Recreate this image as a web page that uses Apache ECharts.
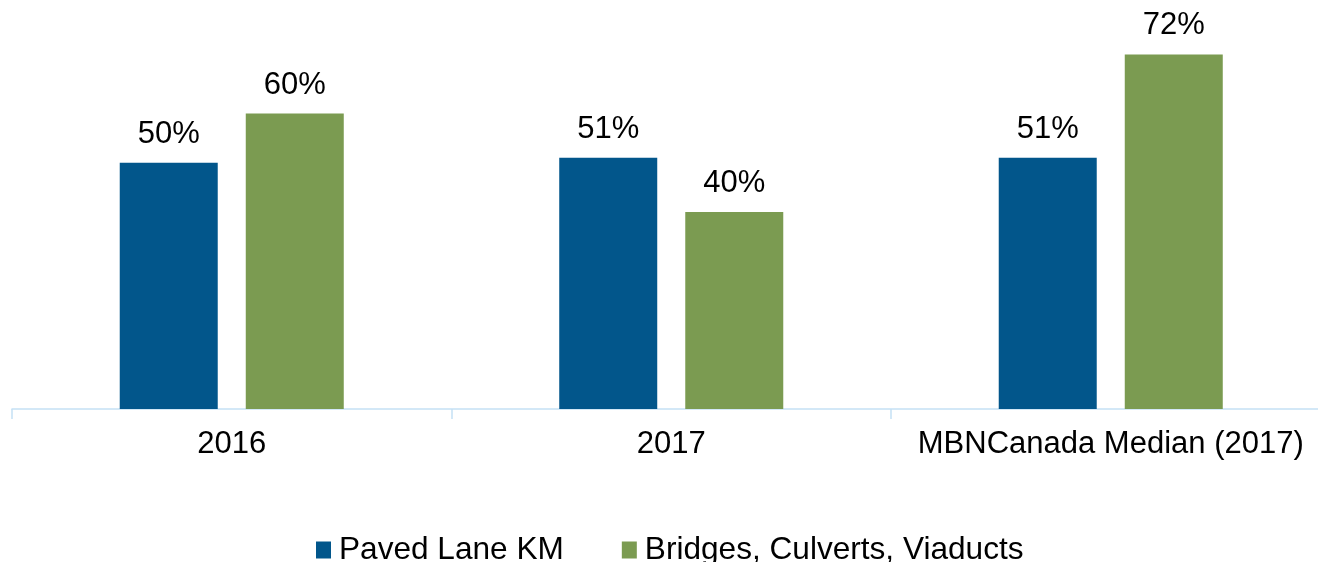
<!DOCTYPE html>
<html>
<head>
<meta charset="utf-8">
<script src="https://cdn.jsdelivr.net/npm/echarts@6/dist/echarts.min.js"></script>
<style>
  html, body { margin: 0; padding: 0; background: #fff; }
  #chart { width: 1318px; height: 562px; }
</style>
</head>
<body>
<div id="chart"></div>
<script>
const categories = ['2016', '2017', 'MBNCanada Median (2017)']
const pavedLaneKm = [50, 51, 51]
const bridgesCulvertsViaducts = [60, 40, 72]

const chart = echarts.init(document.getElementById('chart'))
const font = 'Liberation Sans, Arial, sans-serif'

const labelStyle = {
  show: true,
  position: 'top',
  distance: 13,
  formatter: p => p.value + '%',
  color: '#000',
  fontSize: 31,
  fontFamily: font
}

chart.setOption({
  animation: false,
  grid: { left: 12, width: 1318.5, top: 15, bottom: 153, outerBoundsMode: 'none', containLabel: false },
  legend: {
    left: 311,
    top: 529,
    itemWidth: 15,
    itemHeight: 17,
    itemGap: 58,
    icon: 'rect',
    textStyle: { color: '#000', fontSize: 31.6, fontFamily: font, padding: [0, 0, 0, 3] },
    data: ['Paved Lane KM', 'Bridges, Culverts, Viaducts']
  },
  xAxis: {
    type: 'category',
    data: categories,
    axisLine: { lineStyle: { color: '#c5e1f5', width: 1.5 } },
    axisTick: { show: true, length: 10, lineStyle: { color: '#c5e1f5', width: 1.5 } },
    axisLabel: { color: '#000', fontSize: 31, fontFamily: font, margin: 20, interval: 0, hideOverlap: false }
  },
  yAxis: {
    type: 'value',
    min: 0,
    max: 80,
    show: false,
    splitLine: { show: false }
  },
  series: [
    {
      name: 'Paved Lane KM',
      type: 'bar',
      data: pavedLaneKm,
      barWidth: 98,
      barGap: '28.6%',
      itemStyle: { color: '#02568b' },
      label: labelStyle
    },
    {
      name: 'Bridges, Culverts, Viaducts',
      type: 'bar',
      data: bridgesCulvertsViaducts,
      barWidth: 98,
      itemStyle: { color: '#7b9b51' },
      label: labelStyle
    }
  ]
})
</script>
</body>
</html>
